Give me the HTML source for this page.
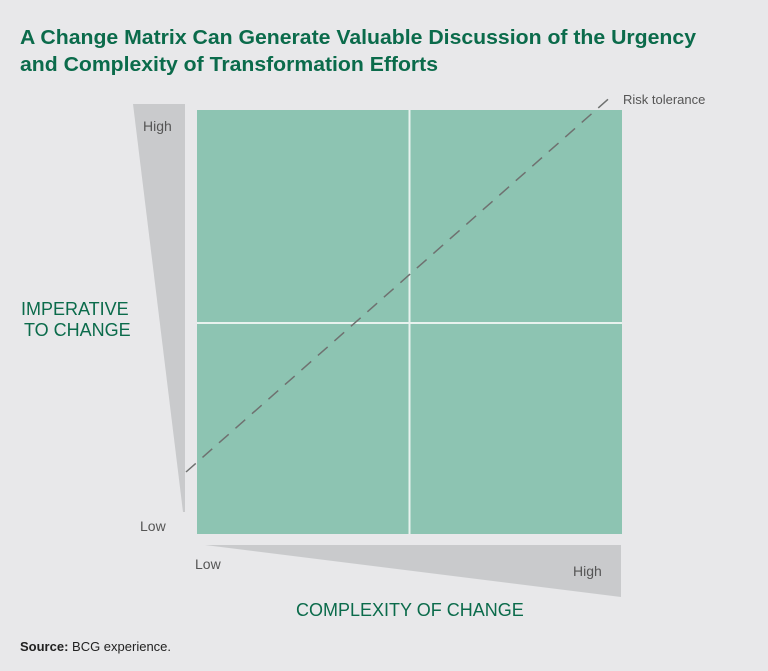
<!DOCTYPE html>
<html><head><meta charset="utf-8"><style>
body{margin:0;width:768px;height:671px;background:#e8e8ea;overflow:hidden;font-family:"Liberation Sans",sans-serif}
</style></head><body>
<svg width="768" height="671" xmlns="http://www.w3.org/2000/svg" style="position:absolute;left:0;top:0">
<text x="20" y="44" font-family="Liberation Sans Narrow, Liberation Sans, sans-serif" font-weight="bold" font-size="20" fill="#0b6b4b" textLength="676" lengthAdjust="spacingAndGlyphs">A Change Matrix Can Generate Valuable Discussion of the Urgency</text>
<text x="20" y="71" font-family="Liberation Sans Narrow, Liberation Sans, sans-serif" font-weight="bold" font-size="20" fill="#0b6b4b" textLength="418" lengthAdjust="spacingAndGlyphs">and Complexity of Transformation Efforts</text>
<polygon points="133,104 185,104 185,512 183,512" fill="#c9cacc"/>
<polygon points="205,545 621,545 621,597" fill="#c9cacc"/>
<rect x="197" y="110" width="425" height="424" fill="#8dc4b2"/>
<line x1="409.5" y1="110" x2="409.5" y2="534" stroke="#e8f2ee" stroke-width="2"/>
<line x1="197" y1="323" x2="622" y2="323" stroke="#e8f2ee" stroke-width="2"/>
<line x1="186" y1="472" x2="614" y2="94" stroke="#6f7170" stroke-width="1.5" stroke-dasharray="13,9"/>
<text x="623" y="104" font-size="13" fill="#555">Risk tolerance</text>
<text x="143" y="131" font-size="14" fill="#555">High</text>
<text x="140" y="531" font-size="14" fill="#555">Low</text>
<text x="195" y="569" font-size="14" fill="#555">Low</text>
<text x="573" y="576" font-size="14" fill="#555">High</text>
<text x="21" y="315" font-size="18" fill="#0b6b4b">IMPERATIVE</text>
<text x="24" y="336" font-size="18" fill="#0b6b4b">TO CHANGE</text>
<text x="296" y="616" font-size="18" fill="#0b6b4b">COMPLEXITY OF CHANGE</text>
<text x="20" y="651" font-size="13" fill="#222"><tspan font-weight="bold">Source:</tspan> BCG experience.</text>
</svg>
</body></html>
